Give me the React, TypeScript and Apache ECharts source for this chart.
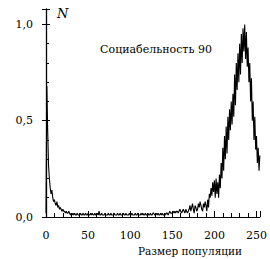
import React, { useEffect, useRef } from "react";
import * as echarts from "echarts";

// Population size 0..254 (one value per size), normalised frequency N
const sizes: number[] = Array.from({ length: 255 }, (_, i) => i);
const freq: number[] = [
  0.02, 0.68, 0.45, 0.27, 0.2, 0.15, 0.12, 0.14, 0.1, 0.08,
  0.09, 0.07, 0.06, 0.08, 0.05, 0.06, 0.04, 0.05, 0.04, 0.03,
  0.04, 0.03, 0.03, 0.02, 0.03, 0.02, 0.02, 0.03, 0.02, 0.01,
  0.02, 0.01, 0.02, 0.01, 0.02, 0.01, 0.01, 0.02, 0.01, 0.01,
  0.01, 0.02, 0.01, 0.01, 0.02, 0.01, 0.01, 0.02, 0.01, 0.01,
  0.02, 0.01, 0.01, 0.02, 0.01, 0.02, 0.01, 0.01, 0.02, 0.01,
  0.01, 0.02, 0.01, 0.03, 0.01, 0.01, 0.02, 0.01, 0.01, 0.01,
  0.02, 0.01, 0.01, 0.01, 0.02, 0.01, 0.01, 0.02, 0.01, 0.01,
  0.01, 0.02, 0.01, 0.01, 0.01, 0.02, 0.01, 0.01, 0.02, 0.01,
  0.01, 0.01, 0.02, 0.01, 0.01, 0.02, 0.01, 0.01, 0.01, 0.02,
  0.01, 0.01, 0.02, 0.01, 0.01, 0.01, 0.02, 0.01, 0.01, 0.02,
  0.01, 0.01, 0.01, 0.02, 0.01, 0.02, 0.01, 0.01, 0.02, 0.01,
  0.01, 0.02, 0.01, 0.01, 0.02, 0.01, 0.01, 0.02, 0.02, 0.01,
  0.01, 0.02, 0.01, 0.02, 0.01, 0.01, 0.02, 0.01, 0.02, 0.01,
  0.01, 0.02, 0.01, 0.02, 0.02, 0.01, 0.02, 0.03, 0.02, 0.02,
  0.02, 0.03, 0.02, 0.03, 0.02, 0.03, 0.03, 0.02, 0.03, 0.04,
  0.03, 0.02, 0.03, 0.04, 0.03, 0.02, 0.04, 0.03, 0.02, 0.03,
  0.04, 0.06, 0.03, 0.05, 0.07, 0.04, 0.02, 0.06, 0.05, 0.03,
  0.04, 0.07, 0.05, 0.08, 0.06, 0.04, 0.03, 0.07, 0.05, 0.08,
  0.06, 0.03, 0.09, 0.05, 0.12, 0.1, 0.15, 0.11, 0.18, 0.13,
  0.19, 0.1, 0.2, 0.12, 0.18, 0.1, 0.22, 0.15, 0.28, 0.2,
  0.36, 0.24, 0.42, 0.3, 0.47, 0.33, 0.52, 0.4, 0.56, 0.45,
  0.6, 0.48, 0.64, 0.52, 0.74, 0.58, 0.8, 0.66, 0.85, 0.7,
  0.9, 0.74, 0.95, 0.8, 0.98, 0.86, 1.0, 0.82, 0.96, 0.78,
  0.88, 0.7, 0.8, 0.6, 0.72, 0.5, 0.6, 0.4, 0.52, 0.35,
  0.42, 0.28, 0.36, 0.24, 0.32,
];

const title = "Социабельность 90";
const xName = "Размер популяции";
const yName = "N";

const FONT = "DejaVu Serif, Liberation Serif, serif";

export default function App() {
  const ref = useRef<HTMLDivElement>(null);

  useEffect(() => {
    if (!ref.current) return;
    const chart = echarts.init(ref.current, null, { renderer: "svg" });
    const fmt = (v: number) => v.toFixed(1).replace(".", ",");
    chart.setOption({
      animation: false,
      backgroundColor: "#ffffff",
      textStyle: { fontFamily: FONT },
      grid: { left: 46, right: 0, top: 9, bottom: 42 },
      xAxis: {
        type: "value",
        min: 0,
        max: 254,
        interval: 50,
        axisLine: { lineStyle: { color: "#000", width: 1 } },
        axisTick: { show: true, inside: true, length: 6, lineStyle: { color: "#000" } },
        minorTick: { show: true, splitNumber: 5, length: 4, lineStyle: { color: "#000" } },
        splitLine: { show: false },
        axisLabel: {
          color: "#000",
          fontFamily: FONT,
          fontSize: 11,
          margin: 13,
          showMaxLabel: false,
        },
      },
      yAxis: [
        {
          type: "value",
          min: 0,
          max: 1.08,
          interval: 0.5,
          axisLine: { show: true, lineStyle: { color: "#000", width: 1.3 } },
          axisTick: { show: true, inside: true, length: 4, lineStyle: { color: "#000" } },
          minorTick: { show: true, splitNumber: 5, length: 3, lineStyle: { color: "#000" } },
          splitLine: { show: false },
          axisLabel: {
            color: "#000",
            fontFamily: FONT,
            fontSize: 11,
            margin: 13,
            showMaxLabel: false,
            formatter: fmt,
          },
        },
        {
          type: "value",
          min: 0,
          max: 1.08,
          interval: 0.5,
          position: "left",
          axisLine: { show: false },
          axisTick: { show: true, inside: false, length: 4, lineStyle: { color: "#000" } },
          splitLine: { show: false },
          axisLabel: { show: false },
        },
      ],
      series: [
        {
          type: "line",
          data: sizes.map((s, i) => [s, freq[i]]),
          showSymbol: false,
          symbol: "none",
          lineStyle: { color: "#000", width: 1.1 },
          yAxisIndex: 0,
        },
      ],
      graphic: [
        {
          type: "text",
          left: 57,
          top: 7,
          style: {
            text: yName,
            fontFamily: FONT,
            fontStyle: "italic",
            fontSize: 13,
            fill: "#000",
          },
        },
        {
          type: "text",
          x: 156,
          y: 49,
          style: {
            text: title,
            fontFamily: FONT,
            fontSize: 11,
            fill: "#000",
            align: "center",
            verticalAlign: "middle",
          },
        },
        {
          type: "text",
          x: 190,
          y: 251,
          style: {
            text: xName,
            fontFamily: FONT,
            fontSize: 10.5,
            fill: "#000",
            align: "center",
            verticalAlign: "middle",
          },
        },
      ],
    });
    return () => chart.dispose();
  }, []);

  return (
    <div
      ref={ref}
      style={{ position: "fixed", left: 0, top: 0, width: 270, height: 259 }}
    />
  );
}
